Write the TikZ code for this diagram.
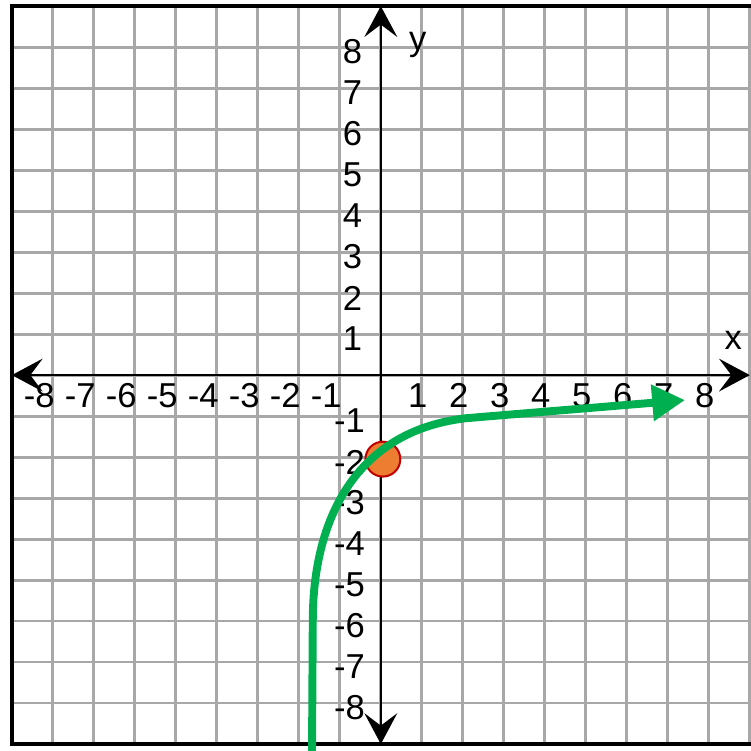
\documentclass[tikz,border=0pt]{standalone}
\usepackage{fontspec}
\setmainfont{Liberation Sans}
\usetikzlibrary{arrows.meta}
\definecolor{gridc}{HTML}{A8A8A8}
\definecolor{curvec}{HTML}{00B050}
\definecolor{dotc}{HTML}{ED7D31}
\definecolor{dotedge}{HTML}{C00000}
\begin{document}
\begin{tikzpicture}[>=Stealth, font=\fontsize{24}{24}\selectfont,
    tick/.style={inner sep=0pt},
    axis/.style={black, line width=1.6pt,
      {Stealth[length=7.5mm, width=8mm, inset=3mm]}-{Stealth[length=7.5mm, width=8mm, inset=3mm]}}]
  \useasboundingbox (-9.29,-9.17) rectangle (9.02,9.15);
  % grid and frame
  \draw[gridc, line width=2pt] (-9,-9) grid (9,9);
  \draw[black, line width=2.8pt] (9.1,9) -- (-9,9) -- (-9,-9) -- (9.1,-9);
  % axes
  \coordinate (xl) at (-9,0);
  \coordinate (xr) at (9,0);
  \coordinate (yb) at (0,-9);
  \coordinate (yt) at (0,9);
  \draw[axis] (xl) -- (xr);
  \draw[axis] (yb) -- (yt);
  \node (xlab) at (8.6,0.85) {x};
  \node (ylab) at (0.9,8.05) {y};
  % tick labels
  \foreach \k in {1,...,8} {
    \node[tick] (xp\k) at (\k-0.1,-0.5) {\k};
    \node[tick, anchor=east] (xn\k) at (-\k+0.05,-0.5) {-\k};
    \node[tick, anchor=east] (yp\k) at (-0.45,\k-0.12) {\k};
    \node[tick, anchor=east] (yn\k) at (-0.38,-\k-0.12) {-\k};
  }
  % point and curve
  \node[circle, fill=dotc, draw=dotedge, line width=1.4pt,
        minimum size=8.5mm, inner sep=0pt] (pt) at (0.05,-2.05) {};
  \coordinate (cstart) at (-1.68,-9.4);
  \coordinate (cknee) at (-1.66,-6);
  \coordinate (cmid) at (2.1,-1.05);
  \coordinate (cend) at (7.42,-0.61);
  \draw[curvec, line width=5.5pt, -{Triangle[length=8mm, width=8.5mm]}]
    (cstart) -- (cknee) .. controls (-1.66,-3.5) and (-0.6,-1.35) .. (cmid) -- (cend);
\end{tikzpicture}
\end{document}
